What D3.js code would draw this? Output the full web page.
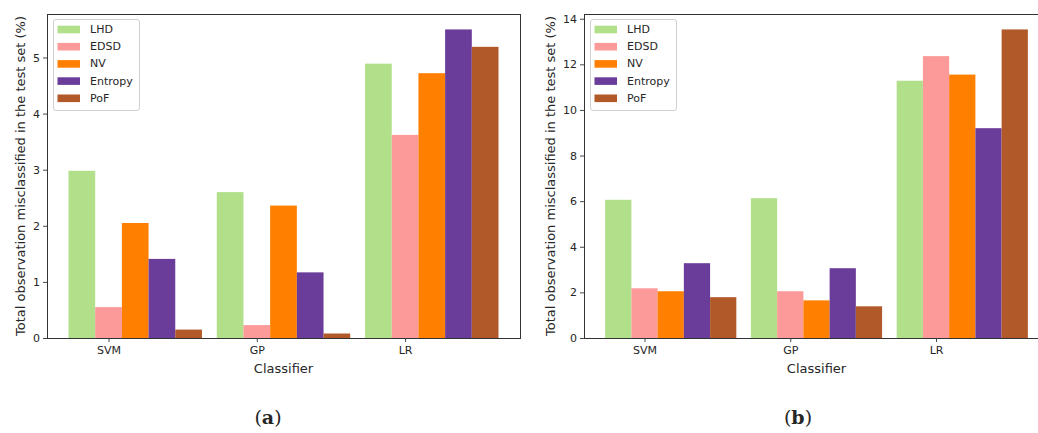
<!DOCTYPE html>
<html>
<head>
<meta charset="utf-8">
<script src="https://cdn.jsdelivr.net/npm/d3@7"></script>
<style>
  html, body { margin: 0; padding: 0; background: #fff; }
  svg { display: block; }
  text { font-family: "DejaVu Sans", sans-serif; fill: #262626; }
</style>
</head>
<body>
<svg id="chart" width="1038" height="433"></svg>
<script>
// ---- Data ----
const categories = ["SVM", "GP", "LR"];
const methods = ["LHD", "EDSD", "NV", "Entropy", "PoF"];
const methodColors = ["#b2df8a", "#fb9a99", "#ff7f00", "#6a3d9a", "#b15928"];

// Panel (a)
const aLHD     = [2.98, 2.60, 4.89];
const aEDSD    = [0.55, 0.23, 3.62];
const aNV      = [2.05, 2.36, 4.72];
const aEntropy = [1.41, 1.17, 5.50];
const aPoF     = [0.15, 0.08, 5.19];
const aTicks   = [0, 1, 2, 3, 4, 5];

// Panel (b)
const bLHD     = [6.06, 6.13, 11.28];
const bEDSD    = [2.18, 2.05, 12.36];
const bNV      = [2.05, 1.65, 11.55];
const bEntropy = [3.28, 3.06, 9.20];
const bPoF     = [1.79, 1.39, 13.53];
const bTicks   = [0, 2, 4, 6, 8, 10, 12, 14];

const yLabel = "Total observation misclassified in the test set (%)";
const xLabel = "Classifier";

const svg = d3.select("#chart");

function drawPanel(cfg) {
  const { left, right, top, bottom, series, ticks, caption, capX, ylabX } = cfg;
  const g = svg.append("g");
  const barW = 0.18;
  const nM = methods.length;
  const span = (categories.length - 1) + nM * barW;
  const pad = 0.05 * span;
  const x = d3.scaleLinear().domain([-pad, span + pad]).range([left, right]);
  const allVals = series.flat();
  const y = d3.scaleLinear().domain([0, d3.max(allVals) * 1.05]).range([bottom, top]);

  // bars
  series.forEach((vals, m) => {
    g.append("g").selectAll("rect")
      .data(vals)
      .join("rect")
      .attr("x", (d, i) => x(i + m * barW))
      .attr("width", (d, i) => x(i + (m + 1) * barW) - x(i + m * barW))
      .attr("y", d => y(d))
      .attr("height", d => y(0) - y(d))
      .attr("fill", methodColors[m]);
  });

  // axes
  const yAxis = d3.axisLeft(y).tickValues(ticks).tickFormat(d3.format("d")).tickSize(4).tickPadding(3);
  const ya = g.append("g").attr("transform", `translate(${left},0)`).call(yAxis);
  const xAxis = d3.axisBottom(x)
    .tickValues(categories.map((c, i) => i + 1.5 * barW))
    .tickFormat((d, i) => categories[i]).tickSize(4).tickPadding(4);
  const xa = g.append("g").attr("transform", `translate(0,${bottom})`).call(xAxis);
  [ya, xa].forEach(a => {
    a.select(".domain").remove();
    a.selectAll("line").attr("stroke", "#333").attr("stroke-width", 0.9);
    a.selectAll("text").attr("font-size", 11).attr("fill", "#262626")
      .style("font-family", '"DejaVu Sans", sans-serif');
  });

  // frame
  g.append("rect")
    .attr("x", left + 0.5).attr("y", top + 0.5)
    .attr("width", right - left).attr("height", bottom - top)
    .attr("fill", "none").attr("stroke", "#333").attr("stroke-width", 1);

  // axis labels
  g.append("text")
    .attr("x", (left + right) / 2).attr("y", bottom + 35)
    .attr("text-anchor", "middle").attr("font-size", 13)
    .text(xLabel);
  g.append("text")
    .attr("transform", `translate(${ylabX},${(top + bottom) / 2}) rotate(-90)`)
    .attr("text-anchor", "middle").attr("dominant-baseline", "central")
    .attr("font-size", 13)
    .text(yLabel);

  // legend
  const lx = left + 6.5, ly = top + 5.5;
  const lg = g.append("g").attr("transform", `translate(${lx},${ly})`);
  lg.append("rect").attr("x", 0).attr("y", 0).attr("width", 86).attr("height", 91)
    .attr("rx", 2.5).attr("fill", "#fff").attr("fill-opacity", 0.8)
    .attr("stroke", "#d0d0d0").attr("stroke-width", 1);
  methods.forEach((mname, m) => {
    const cy = 10 + m * 17.2;
    lg.append("rect").attr("x", 4).attr("y", cy - 3.8).attr("width", 22.5).attr("height", 7.6)
      .attr("fill", methodColors[m]);
    lg.append("text").attr("x", 36.5).attr("y", cy).attr("dominant-baseline", "central")
      .attr("font-size", 11).text(mname);
  });

  // caption
  const cap = svg.append("text")
    .attr("x", capX).attr("y", 424).attr("text-anchor", "middle")
    .style("font-family", '"DejaVu Serif", serif').attr("font-size", 19).attr("fill", "#111");
  cap.append("tspan").text("(");
  cap.append("tspan").attr("font-weight", "bold").text(caption);
  cap.append("tspan").text(")");
}

drawPanel({
  left: 47, right: 520, top: 14, bottom: 338,
  series: [aLHD, aEDSD, aNV, aEntropy, aPoF],
  ticks: aTicks, caption: "a", capX: 268, ylabX: 20
});
drawPanel({
  left: 584, right: 1049, top: 14, bottom: 338,
  series: [bLHD, bEDSD, bNV, bEntropy, bPoF],
  ticks: bTicks, caption: "b", capX: 798, ylabX: 550
});
</script>
</body>
</html>
